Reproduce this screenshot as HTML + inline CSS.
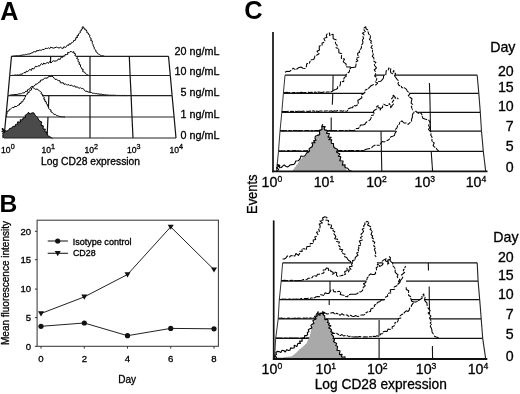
<!DOCTYPE html>
<html><head><meta charset="utf-8"><style>
html,body{margin:0;padding:0;background:#fff;width:520px;height:394px;overflow:hidden}
svg{display:block;filter:grayscale(1)}
text{font-family:"Liberation Sans",sans-serif;fill:#000;stroke:#000;stroke-width:0.3px}
</style></head><body>
<svg width="520" height="394" viewBox="0 0 520 394">
<rect width="520" height="394" fill="#fff"/>
<text x="0.2" y="19.5" font-size="25.2" text-anchor="start" font-weight="bold" style="stroke-width:0">A</text>
<text x="-0.6" y="212.2" font-size="24.6" text-anchor="start" font-weight="bold" style="stroke-width:0">B</text>
<text x="244.3" y="19" font-size="25.4" text-anchor="start" font-weight="bold" style="stroke-width:0">C</text>
<polygon points="11.5,56.3 12.7,56.3 13.8,56 15,56.1 16.1,55.8 17.3,55.8 18.5,55.7 19.6,55.4 20.8,55.4 22,55.2 23.1,54.9 24.3,55 25.4,54.4 26.5,54.5 27.7,54.1 28.8,54 30.1,53.9 31.1,53 32.4,53 33.3,51.8 34.6,51.7 35.9,52 36.7,50.4 38.1,51 39.1,50 40.4,50.2 41.7,50.1 42.7,49.3 44.1,49.7 45,48.5 46.2,48.3 47.4,48.5 48.4,47.8 49.7,48.7 50.7,47.1 51.9,47.7 53.5,48.1 55,47.7 56.3,47.1 57.7,47.5 59,48.1 60.7,47.2 61.9,48.3 63.2,48.3 63.9,46.7 65.7,47.5 66.5,46.3 67.2,45.2 68.7,45.4 69,43.8 70.6,44.2 71.2,42.9 72.3,42.5 73.4,41.9 73.7,40.4 75.4,40.3 75.8,39 75.8,37.7 77.5,37.5 76.9,35.8 78.6,35.5 78.3,34 79.2,33.3 80.4,32.7 80,31.2 81.4,30.7 81.2,29.3 82.6,28.9 82.1,27.3 83.2,26.6 83.3,28 84.9,28.3 84.8,29.8 86.5,30 86.8,31.2 86.8,32.6 88.4,33.1 88.4,34.5 89.9,35.1 89.7,36.6 90,37.8 91.4,38.7 90.6,40.4 92.4,41 92.2,42.5 92.4,43.7 93.2,44.7 93.1,46 94.2,46.9 94.1,48.2 94.8,49.2 95.7,50.1 95.8,51.6 97.1,52.3 97.6,53.5 98.5,54.1 99.6,54.5 100.5,55.3 101.5,55.8 103,55.9 104.5,56.3 104.5,56.3 11.5,56.3" fill="#fff" stroke="none"/><polyline points="11.5,56.3 12.7,56.3 13.8,56 15,56.1 16.1,55.8 17.3,55.8 18.5,55.7 19.6,55.4 20.8,55.4 22,55.2 23.1,54.9 24.3,55 25.4,54.4 26.5,54.5 27.7,54.1 28.8,54 30.1,53.9 31.1,53 32.4,53 33.3,51.8 34.6,51.7 35.9,52 36.7,50.4 38.1,51 39.1,50 40.4,50.2 41.7,50.1 42.7,49.3 44.1,49.7 45,48.5 46.2,48.3 47.4,48.5 48.4,47.8 49.7,48.7 50.7,47.1 51.9,47.7 53.5,48.1 55,47.7 56.3,47.1 57.7,47.5 59,48.1 60.7,47.2 61.9,48.3 63.2,48.3 63.9,46.7 65.7,47.5 66.5,46.3 67.2,45.2 68.7,45.4 69,43.8 70.6,44.2 71.2,42.9 72.3,42.5 73.4,41.9 73.7,40.4 75.4,40.3 75.8,39 75.8,37.7 77.5,37.5 76.9,35.8 78.6,35.5 78.3,34 79.2,33.3 80.4,32.7 80,31.2 81.4,30.7 81.2,29.3 82.6,28.9 82.1,27.3 83.2,26.6 83.3,28 84.9,28.3 84.8,29.8 86.5,30 86.8,31.2 86.8,32.6 88.4,33.1 88.4,34.5 89.9,35.1 89.7,36.6 90,37.8 91.4,38.7 90.6,40.4 92.4,41 92.2,42.5 92.4,43.7 93.2,44.7 93.1,46 94.2,46.9 94.1,48.2 94.8,49.2 95.7,50.1 95.8,51.6 97.1,52.3 97.6,53.5 98.5,54.1 99.6,54.5 100.5,55.3 101.5,55.8 103,55.9 104.5,56.3" fill="none" stroke="#000" stroke-width="1.0" stroke-linejoin="round"/>
<line x1="11.5" y1="56.3" x2="168.5" y2="56.3" stroke="#222" stroke-width="1.2"/>
<line x1="11.5" y1="56.3" x2="9.7" y2="75.5" stroke="#111" stroke-width="1.2"/>
<line x1="50.7" y1="56.3" x2="49.9" y2="75.5" stroke="#111" stroke-width="1.2"/>
<line x1="90" y1="56.3" x2="90" y2="75.5" stroke="#111" stroke-width="1.2"/>
<line x1="129.3" y1="56.3" x2="130.1" y2="75.5" stroke="#111" stroke-width="1.2"/>
<line x1="168.5" y1="56.3" x2="170.3" y2="75.5" stroke="#111" stroke-width="1.2"/>
<polygon points="10.4,75.5 11.6,75.5 12.7,75.3 13.9,75.4 15,75 16.2,75.2 17.3,74.9 18.5,75 19.6,74.8 20.7,74.2 22,74.2 23.1,73.5 24,72.5 25.6,72.8 26.2,71.2 27.8,71.5 28.8,70.6 29.6,69.4 31.5,70.3 32,68.3 33.8,69 34.6,67.7 35.4,66.3 37,66.8 38,65.7 39.6,66.1 40.4,64.8 41.3,63.6 42.9,64.7 43.7,63 45.2,64.1 46.2,63.1 47.2,62.4 48.6,63.4 49.5,61.6 51,63 51.9,61.9 53.3,60.8 55,61.2 56.4,60.8 57.7,60.2 58.3,58.9 60.2,59.4 60.8,58.1 61.4,56.9 62.9,57.3 63.4,56 64.8,56.1 65.1,54.5 66.5,54.6 67.8,54.4 67.7,52.4 69.3,52.6 70,51.7 71.3,51.5 72.3,52.3 74,51.7 73.8,53.2 75.6,53.8 74.9,55.6 76.3,56.3 77.3,57.1 76.7,58.6 78.3,59.1 78.1,60.4 78.1,61.8 79.7,62.4 78.9,64.1 80.6,64.8 80.4,66.2 80.8,67.3 81.8,68 81.9,69.2 83.3,69.6 82.5,71.4 83.8,71.9 84.9,72.3 85.4,73.6 86.5,74 87.3,74.8 88.4,75.3 89.6,75.5 89.6,75.5 10.4,75.5" fill="#fff" stroke="none"/><polyline points="10.4,75.5 11.6,75.5 12.7,75.3 13.9,75.4 15,75 16.2,75.2 17.3,74.9 18.5,75 19.6,74.8 20.7,74.2 22,74.2 23.1,73.5 24,72.5 25.6,72.8 26.2,71.2 27.8,71.5 28.8,70.6 29.6,69.4 31.5,70.3 32,68.3 33.8,69 34.6,67.7 35.4,66.3 37,66.8 38,65.7 39.6,66.1 40.4,64.8 41.3,63.6 42.9,64.7 43.7,63 45.2,64.1 46.2,63.1 47.2,62.4 48.6,63.4 49.5,61.6 51,63 51.9,61.9 53.3,60.8 55,61.2 56.4,60.8 57.7,60.2 58.3,58.9 60.2,59.4 60.8,58.1 61.4,56.9 62.9,57.3 63.4,56 64.8,56.1 65.1,54.5 66.5,54.6 67.8,54.4 67.7,52.4 69.3,52.6 70,51.7 71.3,51.5 72.3,52.3 74,51.7 73.8,53.2 75.6,53.8 74.9,55.6 76.3,56.3 77.3,57.1 76.7,58.6 78.3,59.1 78.1,60.4 78.1,61.8 79.7,62.4 78.9,64.1 80.6,64.8 80.4,66.2 80.8,67.3 81.8,68 81.9,69.2 83.3,69.6 82.5,71.4 83.8,71.9 84.9,72.3 85.4,73.6 86.5,74 87.3,74.8 88.4,75.3 89.6,75.5" fill="none" stroke="#000" stroke-width="1.0" stroke-linejoin="round"/>
<line x1="9.7" y1="75.5" x2="170.3" y2="75.5" stroke="#222" stroke-width="1.2"/>
<line x1="9.7" y1="75.5" x2="7.9" y2="95.6" stroke="#111" stroke-width="1.2"/>
<line x1="49.9" y1="75.5" x2="48.9" y2="95.6" stroke="#111" stroke-width="1.2"/>
<line x1="90" y1="75.5" x2="90" y2="95.6" stroke="#111" stroke-width="1.2"/>
<line x1="130.1" y1="75.5" x2="131.1" y2="95.6" stroke="#111" stroke-width="1.2"/>
<line x1="170.3" y1="75.5" x2="172.1" y2="95.6" stroke="#111" stroke-width="1.2"/>
<polygon points="8.7,95.6 10.1,95.2 11.5,94.8 12.6,94.6 13.8,94.8 15,94.5 16.1,94.6 17.3,94.4 18.8,93.9 20.4,93.8 21.6,93.6 22.6,92.8 24,93 25,92.3 25.7,91.2 27.4,91.4 27.6,89.7 28.8,89.2 30.1,88.6 30.7,87.2 31.9,86.5 33.6,86.3 35,85.4 35.6,84.1 37.2,84.1 38.1,83.1 38.9,82.1 40.3,81.9 40.5,80.2 41.9,80 43.3,79.7 44.3,78.2 45.8,78.1 47.3,78.2 48.2,76.8 49.6,76.5 50.8,76.5 51.9,76.2 53.3,77 54.2,78.3 55,79.4 56.5,79.2 57.3,80.2 58.5,80.6 60,80.8 60.3,82.8 61.9,82.9 63.3,82.7 64,84.4 65.4,83.9 66.5,84.6 67.6,85 68.9,84.6 69.9,85.7 71.2,85.1 72.3,85.8 73.4,86.3 74.8,85.8 75.6,87.3 77.1,86.8 78.1,87.5 79.1,88.3 80.5,87.7 81.5,88.7 82.8,88.4 83.8,89.2 84.5,90.6 85.8,91.3 87,91.2 88,92.1 89.1,92 90.2,92.6 91.4,92.4 92.3,93.2 93.5,93.3 94.6,93.3 95.7,93.7 96.8,93.6 97.8,94 99,93.9 100,94.3 101.2,94.1 102.2,94.5 103.3,94.5 104.4,94.8 105.5,94.7 106.6,95 107.7,95 108.8,95.2 109.9,95.3 111.1,95.2 112.2,95.3 113.3,95.2 114.4,95.3 115.6,95.3 116.7,95.5 117.8,95.4 119,95.5 120.1,95.4 121.2,95.6 122.4,95.4 123.5,95.6 124.6,95.4 125.7,95.6 126.9,95.5 128,95.6 128,95.6 8.7,95.6" fill="#fff" stroke="none"/><polyline points="8.7,95.6 10.1,95.2 11.5,94.8 12.6,94.6 13.8,94.8 15,94.5 16.1,94.6 17.3,94.4 18.8,93.9 20.4,93.8 21.6,93.6 22.6,92.8 24,93 25,92.3 25.7,91.2 27.4,91.4 27.6,89.7 28.8,89.2 30.1,88.6 30.7,87.2 31.9,86.5 33.6,86.3 35,85.4 35.6,84.1 37.2,84.1 38.1,83.1 38.9,82.1 40.3,81.9 40.5,80.2 41.9,80 43.3,79.7 44.3,78.2 45.8,78.1 47.3,78.2 48.2,76.8 49.6,76.5 50.8,76.5 51.9,76.2 53.3,77 54.2,78.3 55,79.4 56.5,79.2 57.3,80.2 58.5,80.6 60,80.8 60.3,82.8 61.9,82.9 63.3,82.7 64,84.4 65.4,83.9 66.5,84.6 67.6,85 68.9,84.6 69.9,85.7 71.2,85.1 72.3,85.8 73.4,86.3 74.8,85.8 75.6,87.3 77.1,86.8 78.1,87.5 79.1,88.3 80.5,87.7 81.5,88.7 82.8,88.4 83.8,89.2 84.5,90.6 85.8,91.3 87,91.2 88,92.1 89.1,92 90.2,92.6 91.4,92.4 92.3,93.2 93.5,93.3 94.6,93.3 95.7,93.7 96.8,93.6 97.8,94 99,93.9 100,94.3 101.2,94.1 102.2,94.5 103.3,94.5 104.4,94.8 105.5,94.7 106.6,95 107.7,95 108.8,95.2 109.9,95.3 111.1,95.2 112.2,95.3 113.3,95.2 114.4,95.3 115.6,95.3 116.7,95.5 117.8,95.4 119,95.5 120.1,95.4 121.2,95.6 122.4,95.4 123.5,95.6 124.6,95.4 125.7,95.6 126.9,95.5 128,95.6" fill="none" stroke="#000" stroke-width="1.0" stroke-linejoin="round"/>
<line x1="7.9" y1="95.6" x2="172.1" y2="95.6" stroke="#222" stroke-width="1.2"/>
<line x1="7.9" y1="95.6" x2="5.9" y2="117" stroke="#111" stroke-width="1.2"/>
<line x1="48.9" y1="95.6" x2="48" y2="117" stroke="#111" stroke-width="1.2"/>
<line x1="90" y1="95.6" x2="90" y2="117" stroke="#111" stroke-width="1.2"/>
<line x1="131.1" y1="95.6" x2="132" y2="117" stroke="#111" stroke-width="1.2"/>
<line x1="172.1" y1="95.6" x2="174.1" y2="117" stroke="#111" stroke-width="1.2"/>
<polygon points="6.3,117 6.6,115.9 6.6,114.6 7.2,113.5 7.1,112.3 7.5,111.2 8.9,111 9.3,109.5 10.6,109.1 11.5,108.3 12.5,107.3 14,107.7 14.7,106.3 16.2,106.7 17.3,106 18,105.1 19.4,105 19.6,103.5 21,103.5 21.1,101.9 22.6,101.9 23.1,100.8 23.3,99.6 24.7,99.1 24.6,97.8 25.5,97 25.4,95.7 26.5,95 27.3,94.2 27.4,92.8 29.1,92.6 29.1,91.2 30,90.4 31.5,89.9 31.5,88.1 32.9,87.5 34.6,88.7 35.7,89.4 37.1,89 38.1,89.8 39.2,90.7 40.4,91.5 41.4,92.3 41,93.9 42.7,94.3 42.4,95.9 43.3,96.7 44.4,97.5 43.7,99.1 45.1,99.7 44.7,101.2 46.3,101.8 46.2,103.1 46.6,104.2 47.9,104.9 47.7,106.4 48.7,107.2 48.7,108.5 49.6,109.4 51,110 50.9,111.9 52.3,112.4 53.1,113.5 54.1,114.4 55.5,114.4 56.4,115.4 57.7,115.8 58.9,116.2 60,116.7 61.2,116.8 62.5,116.8 63.7,117 65,117 65,117 6.3,117" fill="#fff" stroke="none"/><polyline points="6.3,117 6.6,115.9 6.6,114.6 7.2,113.5 7.1,112.3 7.5,111.2 8.9,111 9.3,109.5 10.6,109.1 11.5,108.3 12.5,107.3 14,107.7 14.7,106.3 16.2,106.7 17.3,106 18,105.1 19.4,105 19.6,103.5 21,103.5 21.1,101.9 22.6,101.9 23.1,100.8 23.3,99.6 24.7,99.1 24.6,97.8 25.5,97 25.4,95.7 26.5,95 27.3,94.2 27.4,92.8 29.1,92.6 29.1,91.2 30,90.4 31.5,89.9 31.5,88.1 32.9,87.5 34.6,88.7 35.7,89.4 37.1,89 38.1,89.8 39.2,90.7 40.4,91.5 41.4,92.3 41,93.9 42.7,94.3 42.4,95.9 43.3,96.7 44.4,97.5 43.7,99.1 45.1,99.7 44.7,101.2 46.3,101.8 46.2,103.1 46.6,104.2 47.9,104.9 47.7,106.4 48.7,107.2 48.7,108.5 49.6,109.4 51,110 50.9,111.9 52.3,112.4 53.1,113.5 54.1,114.4 55.5,114.4 56.4,115.4 57.7,115.8 58.9,116.2 60,116.7 61.2,116.8 62.5,116.8 63.7,117 65,117" fill="none" stroke="#000" stroke-width="1.0" stroke-linejoin="round"/>
<line x1="5.9" y1="117" x2="174.1" y2="117" stroke="#222" stroke-width="1.2"/>
<line x1="5.9" y1="117" x2="4" y2="138" stroke="#111" stroke-width="1.2"/>
<line x1="48" y1="117" x2="47" y2="138" stroke="#111" stroke-width="1.2"/>
<line x1="90" y1="117" x2="90" y2="138" stroke="#111" stroke-width="1.2"/>
<line x1="132" y1="117" x2="133" y2="138" stroke="#111" stroke-width="1.2"/>
<line x1="174.1" y1="117" x2="176" y2="138" stroke="#111" stroke-width="1.2"/>
<polygon points="2.9,138.2 3.1,137.1 2.7,135.9 3.2,134.8 2.5,133.7 3.7,132.5 1.7,131.4 3.7,130.3 1.8,129.1 2.9,128 2.7,129.3 4.2,130 3,131.6 4.3,132.4 4.8,130.7 6.5,131 7.8,130.7 8.7,129.8 9.5,128.6 11,128.2 12.1,127.9 12.6,126.6 13.8,126.3 15.3,126.3 15.4,124.6 16.5,124.2 18,124.2 17.4,121.9 19,122 20.7,122.2 20.1,119.8 21.5,119.8 22.9,119.7 23,118 24.2,117.7 25.6,117.3 25,115.4 26.2,114.8 27.7,113.2 28.6,112.2 29.1,113.4 30.3,113.8 32.2,112.8 33.8,112.9 34.6,114.2 35.3,115.5 36.5,116.5 37.5,117.4 38.1,118.6 38.8,120.1 40,121.2 41.7,121.9 41.5,123.7 41,125.4 43.3,125.8 43.3,127.3 42.9,128.9 45.3,129.1 45,130.7 45.1,132 47.1,132 46.8,133.5 47.3,134.9 48.4,135.9 49.8,136.6 51,137.6 52.5,138.2 52.5,138 2.9,138" fill="#4a4a4a" stroke="none"/><polyline points="2.9,138.2 3.1,137.1 2.7,135.9 3.2,134.8 2.5,133.7 3.7,132.5 1.7,131.4 3.7,130.3 1.8,129.1 2.9,128 2.7,129.3 4.2,130 3,131.6 4.3,132.4 4.8,130.7 6.5,131 7.8,130.7 8.7,129.8 9.5,128.6 11,128.2 12.1,127.9 12.6,126.6 13.8,126.3 15.3,126.3 15.4,124.6 16.5,124.2 18,124.2 17.4,121.9 19,122 20.7,122.2 20.1,119.8 21.5,119.8 22.9,119.7 23,118 24.2,117.7 25.6,117.3 25,115.4 26.2,114.8 27.7,113.2 28.6,112.2 29.1,113.4 30.3,113.8 32.2,112.8 33.8,112.9 34.6,114.2 35.3,115.5 36.5,116.5 37.5,117.4 38.1,118.6 38.8,120.1 40,121.2 41.7,121.9 41.5,123.7 41,125.4 43.3,125.8 43.3,127.3 42.9,128.9 45.3,129.1 45,130.7 45.1,132 47.1,132 46.8,133.5 47.3,134.9 48.4,135.9 49.8,136.6 51,137.6 52.5,138.2" fill="none" stroke="#000" stroke-width="1.0" stroke-linejoin="round"/>
<line x1="4" y1="138" x2="176" y2="138" stroke="#222" stroke-width="1.2"/>
<text x="219.6" y="54.6" font-size="10.8" text-anchor="end" font-weight="normal" >20 ng/mL</text>
<text x="219.6" y="74.8" font-size="10.8" text-anchor="end" font-weight="normal" >10 ng/mL</text>
<text x="219.6" y="95.9" font-size="10.8" text-anchor="end" font-weight="normal" >5 ng/mL</text>
<text x="219.6" y="117.6" font-size="10.8" text-anchor="end" font-weight="normal" >1 ng/mL</text>
<text x="219.6" y="138.8" font-size="10.8" text-anchor="end" font-weight="normal" >0 ng/mL</text>
<text x="1.1" y="152.7" font-size="8.6">10<tspan dy="-3.6" font-size="7.2">0</tspan></text>
<text x="41.5" y="152.7" font-size="8.6">10<tspan dy="-3.6" font-size="7.2">1</tspan></text>
<text x="84.5" y="152.7" font-size="8.6">10<tspan dy="-3.6" font-size="7.2">2</tspan></text>
<text x="127" y="152.7" font-size="8.6">10<tspan dy="-3.6" font-size="7.2">3</tspan></text>
<text x="169.5" y="152.7" font-size="8.6">10<tspan dy="-3.6" font-size="7.2">4</tspan></text>
<text x="41" y="164.8" font-size="10.3" text-anchor="start" font-weight="normal" >Log CD28 expression</text>
<rect x="37.1" y="220.2" width="181.3" height="126.1" fill="none" stroke="#3a3a3a" stroke-width="1.05"/>
<line x1="34.9" y1="346.3" x2="37.1" y2="346.3" stroke="#333" stroke-width="1"/>
<text x="31.2" y="349.6" font-size="9.6" text-anchor="end" font-weight="normal" >0</text>
<line x1="34.9" y1="317.6" x2="37.1" y2="317.6" stroke="#333" stroke-width="1"/>
<text x="31.2" y="320.9" font-size="9.6" text-anchor="end" font-weight="normal" >5</text>
<line x1="34.9" y1="289.1" x2="37.1" y2="289.1" stroke="#333" stroke-width="1"/>
<text x="31.2" y="292.4" font-size="9.6" text-anchor="end" font-weight="normal" >10</text>
<line x1="34.9" y1="259.7" x2="37.1" y2="259.7" stroke="#333" stroke-width="1"/>
<text x="31.2" y="263" font-size="9.6" text-anchor="end" font-weight="normal" >15</text>
<line x1="34.9" y1="231.3" x2="37.1" y2="231.3" stroke="#333" stroke-width="1"/>
<text x="31.2" y="234.6" font-size="9.6" text-anchor="end" font-weight="normal" >20</text>
<line x1="41" y1="346.3" x2="41" y2="348.6" stroke="#333" stroke-width="1"/>
<text x="41" y="362" font-size="9.6" text-anchor="middle" font-weight="normal" >0</text>
<line x1="84.3" y1="346.3" x2="84.3" y2="348.6" stroke="#333" stroke-width="1"/>
<text x="84.3" y="362" font-size="9.6" text-anchor="middle" font-weight="normal" >2</text>
<line x1="127.5" y1="346.3" x2="127.5" y2="348.6" stroke="#333" stroke-width="1"/>
<text x="127.5" y="362" font-size="9.6" text-anchor="middle" font-weight="normal" >4</text>
<line x1="170.7" y1="346.3" x2="170.7" y2="348.6" stroke="#333" stroke-width="1"/>
<text x="170.7" y="362" font-size="9.6" text-anchor="middle" font-weight="normal" >6</text>
<line x1="214" y1="346.3" x2="214" y2="348.6" stroke="#333" stroke-width="1"/>
<text x="214" y="362" font-size="9.6" text-anchor="middle" font-weight="normal" >8</text>
<text x="127.2" y="382.9" font-size="10" text-anchor="middle" font-weight="normal" >Day</text>
<text x="8.6" y="345.0" font-size="10.0" transform="rotate(-90 8.6 345.0)">Mean fluorescence intensity</text>
<polyline points="41,313.5 84.3,296.9 127.5,274.5 170.7,226.9 214,269.6" fill="none" stroke="#222" stroke-width="1.0"/>
<polyline points="41,326.3 84.3,323 127.5,335.7 170.7,328.4 214,328.8" fill="none" stroke="#222" stroke-width="1.0"/>
<polygon points="38,311.2 44,311.2 41,316.4" fill="#111"/>
<polygon points="81.3,294.6 87.3,294.6 84.3,299.8" fill="#111"/>
<polygon points="124.5,272.2 130.5,272.2 127.5,277.4" fill="#111"/>
<polygon points="167.7,224.7 173.7,224.7 170.7,229.8" fill="#111"/>
<polygon points="211,267.4 217,267.4 214,272.5" fill="#111"/>
<circle cx="41" cy="326.3" r="2.6" fill="#111"/>
<circle cx="84.3" cy="323" r="2.6" fill="#111"/>
<circle cx="127.5" cy="335.7" r="2.6" fill="#111"/>
<circle cx="170.7" cy="328.4" r="2.6" fill="#111"/>
<circle cx="214" cy="328.8" r="2.6" fill="#111"/>
<line x1="47.7" y1="241" x2="67.9" y2="241" stroke="#222" stroke-width="1.1"/>
<circle cx="57.7" cy="241" r="2.6" fill="#111"/>
<line x1="47.7" y1="253.3" x2="67.9" y2="253.3" stroke="#222" stroke-width="1.1"/>
<polygon points="54.7,251.1 60.7,251.1 57.7,256.2" fill="#111"/>
<text x="72.7" y="244.5" font-size="9.05" text-anchor="start" font-weight="normal" >Isotype control</text>
<text x="72.9" y="256.3" font-size="8.9" text-anchor="start" font-weight="normal" >CD28</text>
<polygon points="285,72.3 287,71.2 289.5,71.5 291.5,70 293,68.3 295,69.4 297,69 298.5,67.7 300.9,67 303,68.3 305.6,68.5 306.5,66 306.7,63.7 309.4,63.3 310,61.3 311.3,59.8 313.7,59.5 314.6,57.5 315,55.5 317,55 319,53.7 317,51.2 319.5,50.1 319.2,48.1 319.4,45.9 322.2,45.8 322,43.2 323.8,42.3 324.9,40.8 323.7,38.2 326.9,37.6 326.3,35.3 327.3,33.7 329.6,33.1 329.7,35.4 333.1,34.2 333.1,36.5 333.2,38.7 336.1,39.8 335.4,42.3 335.8,44 337.2,45.4 336.1,47.7 338.8,48.5 338.8,50.4 338.9,52.7 341.8,53.7 341.5,56.2 341.3,58.4 344.5,59 343.2,61.9 345,63.1 346.2,64.2 345.7,66.7 348,67 350.5,67.1 350.4,69.9 352,71 353.9,71.3 354.6,73.1 356,74 358,74.5 360,75.2 360,75.2 285,75.2" fill="#fff" stroke="none"/><polyline points="285,72.3 287,71.2 289.5,71.5 291.5,70 293,68.3 295,69.4 297,69 298.5,67.7 300.9,67 303,68.3 305.6,68.5 306.5,66 306.7,63.7 309.4,63.3 310,61.3 311.3,59.8 313.7,59.5 314.6,57.5 315,55.5 317,55 319,53.7 317,51.2 319.5,50.1 319.2,48.1 319.4,45.9 322.2,45.8 322,43.2 323.8,42.3 324.9,40.8 323.7,38.2 326.9,37.6 326.3,35.3 327.3,33.7 329.6,33.1 329.7,35.4 333.1,34.2 333.1,36.5 333.2,38.7 336.1,39.8 335.4,42.3 335.8,44 337.2,45.4 336.1,47.7 338.8,48.5 338.8,50.4 338.9,52.7 341.8,53.7 341.5,56.2 341.3,58.4 344.5,59 343.2,61.9 345,63.1 346.2,64.2 345.7,66.7 348,67 350.5,67.1 350.4,69.9 352,71 353.9,71.3 354.6,73.1 356,74 358,74.5 360,75.2" fill="none" stroke="#000" stroke-width="1.05" stroke-linejoin="round" stroke-dasharray="7 1.3 4 0.9 10 1.6 5 1.1 3 0.8"/>
<line x1="285" y1="75.2" x2="477.2" y2="75.2" stroke="#111" stroke-width="1.25"/>
<line x1="285" y1="75.2" x2="283.4" y2="93.3" stroke="#333" stroke-width="1.0"/>
<line x1="477.2" y1="75.2" x2="478.8" y2="93.3" stroke="#222" stroke-width="1.1"/>
<line x1="333.1" y1="75.2" x2="332.8" y2="93.3" stroke="#111" stroke-width="1.1"/>
<line x1="429.4" y1="82.9" x2="429.8" y2="93.3" stroke="#111" stroke-width="1.1"/>
<polygon points="283.4,92.5 285.1,92.7 286.7,92.3 288.4,92.7 290,92.5 291.7,92.7 293.4,92.4 295,92.6 296.7,92.5 298.3,92.7 300,92.6 301.7,92.3 303.3,92.7 305,92.5 306.7,92.6 308.3,92.3 310,92.5 311.7,92.2 313.3,92.6 315,92 316.7,92.4 318.3,92 320,92.2 321.8,92.5 323.6,92 325.4,92.3 327.2,91.9 329,92 330.8,91.9 332.3,91.2 333.9,90.1 335.8,89.4 337.5,88.6 337.7,86.5 339.8,86 340.4,84.2 340.5,81.8 343.7,81.4 343.8,79 344.4,77.4 346.1,76.5 346.1,74.5 347.3,73.3 349.4,71.8 349.6,69.2 351,67.6 353.1,67.5 355.7,66.9 356,64.2 355.5,62.2 357.8,60.7 356,58.5 358.9,57.1 357.7,55 357.7,53.2 359.6,52.3 359.1,50.3 360.6,49.2 361.5,47.4 361.3,45.3 362.7,43.7 362.9,41.7 362.4,40 363.6,38.4 363,36.7 364.3,35.1 362.4,33.2 365.4,31.8 364,30 364.1,27.9 365.8,26.7 366,28.7 367.8,30 368.1,31.9 368.6,33.9 370.3,35.5 370.4,37.7 369.4,39.6 371.4,40.9 370.7,42.7 372.1,44.1 372.1,45.8 371,47.6 373,49.2 372.3,51 372.7,52.7 373.3,54.4 372.3,56.3 373.9,57.8 373.8,59.6 373.8,61.3 375.9,62.5 374.3,64.5 375,66 376.5,67.8 374.2,70 375.7,71.8 375.6,73.8 374.7,76 377,77.8 376.5,80 375.3,81.9 377.6,83.1 376.8,84.9 379.2,86.1 378,88 377.8,90.1 379.7,91.4 380,93.3 380,93.3 283.4,93.3" fill="#fff" stroke="none"/><polyline points="283.4,92.5 285.1,92.7 286.7,92.3 288.4,92.7 290,92.5 291.7,92.7 293.4,92.4 295,92.6 296.7,92.5 298.3,92.7 300,92.6 301.7,92.3 303.3,92.7 305,92.5 306.7,92.6 308.3,92.3 310,92.5 311.7,92.2 313.3,92.6 315,92 316.7,92.4 318.3,92 320,92.2 321.8,92.5 323.6,92 325.4,92.3 327.2,91.9 329,92 330.8,91.9 332.3,91.2 333.9,90.1 335.8,89.4 337.5,88.6 337.7,86.5 339.8,86 340.4,84.2 340.5,81.8 343.7,81.4 343.8,79 344.4,77.4 346.1,76.5 346.1,74.5 347.3,73.3 349.4,71.8 349.6,69.2 351,67.6 353.1,67.5 355.7,66.9 356,64.2 355.5,62.2 357.8,60.7 356,58.5 358.9,57.1 357.7,55 357.7,53.2 359.6,52.3 359.1,50.3 360.6,49.2 361.5,47.4 361.3,45.3 362.7,43.7 362.9,41.7 362.4,40 363.6,38.4 363,36.7 364.3,35.1 362.4,33.2 365.4,31.8 364,30 364.1,27.9 365.8,26.7 366,28.7 367.8,30 368.1,31.9 368.6,33.9 370.3,35.5 370.4,37.7 369.4,39.6 371.4,40.9 370.7,42.7 372.1,44.1 372.1,45.8 371,47.6 373,49.2 372.3,51 372.7,52.7 373.3,54.4 372.3,56.3 373.9,57.8 373.8,59.6 373.8,61.3 375.9,62.5 374.3,64.5 375,66 376.5,67.8 374.2,70 375.7,71.8 375.6,73.8 374.7,76 377,77.8 376.5,80 375.3,81.9 377.6,83.1 376.8,84.9 379.2,86.1 378,88 377.8,90.1 379.7,91.4 380,93.3" fill="none" stroke="#000" stroke-width="1.05" stroke-linejoin="round" stroke-dasharray="7 1.3 4 0.9 10 1.6 5 1.1 3 0.8"/>
<line x1="283.4" y1="93.3" x2="478.8" y2="93.3" stroke="#111" stroke-width="1.25"/>
<line x1="283.4" y1="93.3" x2="281.8" y2="112.3" stroke="#333" stroke-width="1.0"/>
<line x1="478.8" y1="93.3" x2="480.3" y2="112.3" stroke="#222" stroke-width="1.1"/>
<line x1="332.8" y1="93.3" x2="332.3" y2="104.8" stroke="#111" stroke-width="1.1"/>
<line x1="429.8" y1="93.3" x2="430.2" y2="112.3" stroke="#111" stroke-width="1.1"/>
<polygon points="281.8,111.6 283.5,111.6 285.1,111.5 286.8,111.6 288.4,111.3 290.1,111.5 291.7,111.2 293.4,111.5 295,111.2 296.7,111.6 298.3,111.2 300,111.3 301.7,111.4 303.3,111 305,111.5 306.7,111.2 308.3,111.5 310,111 311.7,111.4 313.3,110.8 315,111.5 316.7,111.1 318.3,111.5 320,111.1 321.6,110.9 323.2,111.3 324.8,110.9 326.4,111.1 328,110.8 329.6,111.2 331.2,110.7 332.8,111.4 334.5,110.8 336.1,111.3 337.7,110.6 339.3,111.1 340.9,110.7 342.5,111.3 344.1,110.8 345.7,111.2 347.3,110.9 348.5,108.7 350.8,107.7 352.6,107.8 353.4,105.3 355.4,106 357.3,105 358.3,103.1 357.8,100.5 360,99 361.9,97.8 361.3,94.8 363.5,93.8 364.9,92.4 365.1,90.2 366.9,89.2 368.9,88 370.4,86.3 372,85.2 373.8,84.6 375.9,85 377.3,83.5 378.5,81.5 380.8,81.2 382.3,79.7 383.5,78 383.5,75.9 385.8,75 386,73 386.1,70.9 388.2,70 388.7,68.1 390.8,68.8 390.4,71 390.9,72.9 392.7,73.8 393,72 393.8,70.4 393.9,72.2 395.7,73.6 394.5,75.8 395.6,77.3 397.3,79.6 398.9,81.2 397.9,83.6 399,85.4 401.1,85.8 401.9,87.7 404.2,87.7 406.5,89.4 407.2,91 408.4,92.2 410,93.6 408.3,95.9 409.9,97.3 412,98.8 411.4,101.3 411.1,103.1 413,104.8 411.3,106.7 411.9,108.4 412.4,110.3 412.6,112.3 412.6,112.3 281.8,112.3" fill="#fff" stroke="none"/><polyline points="281.8,111.6 283.5,111.6 285.1,111.5 286.8,111.6 288.4,111.3 290.1,111.5 291.7,111.2 293.4,111.5 295,111.2 296.7,111.6 298.3,111.2 300,111.3 301.7,111.4 303.3,111 305,111.5 306.7,111.2 308.3,111.5 310,111 311.7,111.4 313.3,110.8 315,111.5 316.7,111.1 318.3,111.5 320,111.1 321.6,110.9 323.2,111.3 324.8,110.9 326.4,111.1 328,110.8 329.6,111.2 331.2,110.7 332.8,111.4 334.5,110.8 336.1,111.3 337.7,110.6 339.3,111.1 340.9,110.7 342.5,111.3 344.1,110.8 345.7,111.2 347.3,110.9 348.5,108.7 350.8,107.7 352.6,107.8 353.4,105.3 355.4,106 357.3,105 358.3,103.1 357.8,100.5 360,99 361.9,97.8 361.3,94.8 363.5,93.8 364.9,92.4 365.1,90.2 366.9,89.2 368.9,88 370.4,86.3 372,85.2 373.8,84.6 375.9,85 377.3,83.5 378.5,81.5 380.8,81.2 382.3,79.7 383.5,78 383.5,75.9 385.8,75 386,73 386.1,70.9 388.2,70 388.7,68.1 390.8,68.8 390.4,71 390.9,72.9 392.7,73.8 393,72 393.8,70.4 393.9,72.2 395.7,73.6 394.5,75.8 395.6,77.3 397.3,79.6 398.9,81.2 397.9,83.6 399,85.4 401.1,85.8 401.9,87.7 404.2,87.7 406.5,89.4 407.2,91 408.4,92.2 410,93.6 408.3,95.9 409.9,97.3 412,98.8 411.4,101.3 411.1,103.1 413,104.8 411.3,106.7 411.9,108.4 412.4,110.3 412.6,112.3" fill="none" stroke="#000" stroke-width="1.05" stroke-linejoin="round" stroke-dasharray="7 1.3 4 0.9 10 1.6 5 1.1 3 0.8"/>
<line x1="281.8" y1="112.3" x2="480.3" y2="112.3" stroke="#111" stroke-width="1.25"/>
<line x1="281.8" y1="112.3" x2="280" y2="131.2" stroke="#333" stroke-width="1.0"/>
<line x1="480.3" y1="112.3" x2="481.5" y2="131.2" stroke="#222" stroke-width="1.1"/>
<line x1="331.2" y1="117.5" x2="331.2" y2="131.2" stroke="#111" stroke-width="1.1"/>
<line x1="430.2" y1="112.3" x2="430.5" y2="131.2" stroke="#111" stroke-width="1.1"/>
<polygon points="280,130.6 281.6,130.7 283.2,130.4 284.8,130.8 286.4,130.5 288,130.7 289.6,130.4 291.2,130.7 292.8,130.4 294.4,130.6 296,130.4 297.6,130.7 299.2,130.4 300.8,130.7 302.4,130.4 304,130.7 305.6,130.4 307.2,130.6 308.8,130.4 310.4,130.7 312,130.5 313.6,130.7 315.2,130.5 316.8,130.6 318.4,130.6 320,130.6 321.6,130.8 323.2,130.4 324.8,130.8 326.4,130.5 328,130.7 329.7,130.4 331.3,130.6 332.9,130.4 334.5,130.8 336.1,130.5 337.7,130.6 339.3,130.4 340.9,130.6 342.5,130.4 344.1,130.6 345.8,130.5 347.4,130.7 349,130.3 350.6,130.6 352.2,130.4 353.8,130.5 355.5,130 356.5,128.4 358.4,128.4 359.6,127.1 360.5,125 362.8,125.1 364.6,124.6 365.6,123 366.9,121.8 368.4,120.9 370.4,119.6 371.2,117.4 371.4,115.5 373.6,115 374,113.3 373.4,111.1 375.3,109.8 376.9,108.9 376.6,106.6 378.1,105.6 377.7,107.6 380.3,108.1 380.2,110 380.9,108.4 382.6,107.5 382.6,105.5 383.7,104.2 386.5,105.6 388.5,105.4 389.3,103.5 390.6,105.4 390.7,107.7 392.1,105.6 393.5,104 392.2,102.1 393.7,100.5 391.6,98.6 393.2,97 393.1,95.2 394.7,96.4 395.2,98.3 397.2,97.3 398.2,99.3 400.1,100.2 402,101 403.7,102 405.3,103 407,104 408.3,105.3 409.7,106.7 411,108 412,109.7 413,111.3 414,113 414.8,114.5 415.5,116 416.2,117.5 417,119 417.8,120.5 418.5,122 419.2,123.5 420,125 421.2,126.2 422.4,127.5 423.6,128.7 424.8,130 426,131.2 426,131.2 280,131.2" fill="#fff" stroke="none"/><polyline points="280,130.6 281.6,130.7 283.2,130.4 284.8,130.8 286.4,130.5 288,130.7 289.6,130.4 291.2,130.7 292.8,130.4 294.4,130.6 296,130.4 297.6,130.7 299.2,130.4 300.8,130.7 302.4,130.4 304,130.7 305.6,130.4 307.2,130.6 308.8,130.4 310.4,130.7 312,130.5 313.6,130.7 315.2,130.5 316.8,130.6 318.4,130.6 320,130.6 321.6,130.8 323.2,130.4 324.8,130.8 326.4,130.5 328,130.7 329.7,130.4 331.3,130.6 332.9,130.4 334.5,130.8 336.1,130.5 337.7,130.6 339.3,130.4 340.9,130.6 342.5,130.4 344.1,130.6 345.8,130.5 347.4,130.7 349,130.3 350.6,130.6 352.2,130.4 353.8,130.5 355.5,130 356.5,128.4 358.4,128.4 359.6,127.1 360.5,125 362.8,125.1 364.6,124.6 365.6,123 366.9,121.8 368.4,120.9 370.4,119.6 371.2,117.4 371.4,115.5 373.6,115 374,113.3 373.4,111.1 375.3,109.8 376.9,108.9 376.6,106.6 378.1,105.6 377.7,107.6 380.3,108.1 380.2,110 380.9,108.4 382.6,107.5 382.6,105.5 383.7,104.2 386.5,105.6 388.5,105.4 389.3,103.5 390.6,105.4 390.7,107.7 392.1,105.6 393.5,104 392.2,102.1 393.7,100.5 391.6,98.6 393.2,97 393.1,95.2 394.7,96.4 395.2,98.3 397.2,97.3 398.2,99.3" fill="none" stroke="#000" stroke-width="1.05" stroke-linejoin="round" stroke-dasharray="7 1.3 4 0.9 10 1.6 5 1.1 3 0.8"/>
<line x1="280" y1="131.2" x2="481.5" y2="131.2" stroke="#111" stroke-width="1.25"/>
<line x1="280" y1="131.2" x2="278.5" y2="151.3" stroke="#333" stroke-width="1.0"/>
<line x1="481.5" y1="131.2" x2="483.3" y2="151.3" stroke="#222" stroke-width="1.1"/>
<polygon points="278.5,150.8 280.2,151 281.8,150.7 283.5,150.9 285.1,150.8 286.8,150.8 288.5,150.6 290.1,150.9 291.8,150.6 293.4,150.8 295.1,150.6 296.8,150.9 298.4,150.7 300.1,150.9 301.7,150.6 303.4,150.8 305.1,150.7 306.7,150.8 308.4,150.6 310,150.8 311.7,150.6 313.4,150.9 315,150.7 316.7,150.9 318.3,150.6 320,150.7 321.6,150.8 323.2,150.5 324.8,150.7 326.5,150.6 328.1,150.7 329.7,150.6 331.3,150.8 332.9,150.6 334.5,150.7 336.2,150.6 337.8,150.7 339.4,150.6 341,150.6 342.6,150.5 344.2,150.7 345.8,150.5 347.5,150.7 349.1,150.4 350.7,150.6 352.3,150.5 353.9,150.6 355.5,150.4 357.2,150.6 358.8,150.4 360.4,150.7 362,150.5 364.2,150.2 366.2,149.3 368.4,148.8 370.9,148.5 372.6,146.7 374.4,145.3 376.7,145.3 379.3,145.3 380.9,143.3 382.2,141.5 384.4,141.9 387.2,140.5 388.8,139.7 390,138.4 390.9,136.7 392.8,136.3 394.5,135.4 394.9,133.5 396.3,131.4 395.5,129.4 397,127.9 397.7,125.1 399.3,124.1 399.8,122.3 401.9,120.9 404,123 406,123 408.1,124.4 410.2,122.3 411.6,120.9 411.6,119 412.4,117.2 412.3,115.3 413,113.3 414.4,112.6 415.8,111.2 417.2,112.6 418.6,113.3 420.4,112.6 421.8,114.3 422.3,116.4 422.9,118.3 424.8,119 426.7,119.6 428.6,120.2 430,121.9 429.3,124 428.6,125.8 429.9,127.5 428.5,129.4 429.9,131 431.6,132.5 430.7,135 431.8,136.7 432.3,138.4 431.8,140.1 432.4,141.8 434.2,143 433.1,145.4 434.3,146.9 436.1,147.6 436.9,149.4 438.8,151.3 438.8,151.3 278.5,151.3" fill="#fff" stroke="none"/><polyline points="278.5,150.8 280.2,151 281.8,150.7 283.5,150.9 285.1,150.8 286.8,150.8 288.5,150.6 290.1,150.9 291.8,150.6 293.4,150.8 295.1,150.6 296.8,150.9 298.4,150.7 300.1,150.9 301.7,150.6 303.4,150.8 305.1,150.7 306.7,150.8 308.4,150.6 310,150.8 311.7,150.6 313.4,150.9 315,150.7 316.7,150.9 318.3,150.6 320,150.7 321.6,150.8 323.2,150.5 324.8,150.7 326.5,150.6 328.1,150.7 329.7,150.6 331.3,150.8 332.9,150.6 334.5,150.7 336.2,150.6 337.8,150.7 339.4,150.6 341,150.6 342.6,150.5 344.2,150.7 345.8,150.5 347.5,150.7 349.1,150.4 350.7,150.6 352.3,150.5 353.9,150.6 355.5,150.4 357.2,150.6 358.8,150.4 360.4,150.7 362,150.5 364.2,150.2 366.2,149.3 368.4,148.8 370.9,148.5 372.6,146.7 374.4,145.3 376.7,145.3 379.3,145.3 380.9,143.3 382.2,141.5 384.4,141.9 387.2,140.5 388.8,139.7 390,138.4 390.9,136.7 392.8,136.3 394.5,135.4 394.9,133.5 396.3,131.4 395.5,129.4 397,127.9 397.7,125.1 399.3,124.1 399.8,122.3 401.9,120.9 404,123 406,123 408.1,124.4 410.2,122.3 411.6,120.9 411.6,119 412.4,117.2 412.3,115.3 413,113.3 414.4,112.6 415.8,111.2 417.2,112.6 418.6,113.3 420.4,112.6 421.8,114.3 422.3,116.4 422.9,118.3 424.8,119 426.7,119.6 428.6,120.2 430,121.9 429.3,124 428.6,125.8 429.9,127.5 428.5,129.4 429.9,131 431.6,132.5 430.7,135 431.8,136.7 432.3,138.4 431.8,140.1 432.4,141.8 434.2,143 433.1,145.4 434.3,146.9 436.1,147.6 436.9,149.4 438.8,151.3" fill="none" stroke="#000" stroke-width="1.05" stroke-linejoin="round" stroke-dasharray="7 1.3 4 0.9 10 1.6 5 1.1 3 0.8"/>
<line x1="278.5" y1="151.3" x2="483.3" y2="151.3" stroke="#111" stroke-width="1.25"/>
<line x1="278.5" y1="151.3" x2="276.5" y2="171.3" stroke="#333" stroke-width="1.0"/>
<line x1="483.3" y1="151.3" x2="485.7" y2="171.3" stroke="#222" stroke-width="1.1"/>
<line x1="431.2" y1="151.3" x2="432.6" y2="171.3" stroke="#111" stroke-width="1.1"/>
<polygon points="292,171.3 292.8,170.5 293.2,169.4 294.1,168.7 294.5,167.6 295.4,166.9 296,166 296.4,165 297.3,164.4 297.6,163.4 298.5,162.7 298.6,161.6 299.6,160.9 300,160 300.6,159.1 301.7,158.7 302.1,157.6 303,157 304.1,156.5 304.9,155.6 306,155 306.9,154.2 307.2,153.1 308.1,152.3 308.8,151.5 308.9,150.4 309.6,149.6 309.7,148.5 310.4,147.7 311.3,146.8 311.7,145.5 312.7,144.6 313.2,143.6 313.4,142.5 314.1,141.7 314.1,140.5 314.9,139.6 315,138.5 315.5,137.3 316.7,136.6 317.3,135.4 317.9,134.2 319.1,133.5 319.6,132.3 319.9,131.3 320.8,130.6 320.7,129.4 321.6,128.7 321.9,127.7 322,126.6 322.5,125.7 322.7,124.6 323.3,125.5 323.2,126.6 324.1,127.4 324.2,128.5 325.2,129.5 326.5,130 327,131.1 327.2,132.3 328,133.2 328.1,134.4 328.8,135.4 329.5,136.3 329.3,137.5 330.2,138.4 330.3,139.5 331.1,140.4 331.2,141.5 331.7,142.5 332.4,143.4 332.7,144.6 333.5,145.4 334.5,146.3 334.8,147.6 335.8,148.5 336.4,149.4 336.5,150.4 337.3,151.2 337.5,152.3 338.1,153.1 338.7,154.1 338.7,155.4 339.7,156.3 339.8,157.5 340.4,158.5 341.2,159.3 341,160.5 341.9,161.2 342.1,162.2 342.7,163.1 343.4,164 343.7,165.1 344.8,165.7 345,166.9 345.8,167.7 346.4,168.8 346.5,170.1 347,171.3" fill="#a9a9a9" stroke="none"/>
<polyline points="277.3,171 278.7,169.4 276.6,167.8 278.6,166.2 277.3,164.6 279.7,165.3 279.6,167.7 281.4,167.5 282.7,166.2 284.2,164.9 285.8,166.2 287.3,166.9 288.8,166.2 290.1,165 291.9,164.6 293.8,164.5 295,163.1 295.8,161 298.1,160.8 299.6,159.5 300.4,157.7 300.9,156 302.7,156.2 304.6,156 305.8,154.6 306.6,153.1 308.1,152.3 309.6,151.1 309,148.9 310.4,147.7 312.2,146.7 312.7,144.6 311.8,142.9 315,142.7 313.6,140.8 316,140.3 315,138.5 315.3,136.3 317.3,135.4 319.7,134.7 319.6,132.3 319.2,130.2 322,129.6 321.9,127.7 321.8,126 322.7,124.6 321.8,126.4 325.2,126.6 324.2,128.5 324.8,130.1 326.5,130 327.4,131.2 326.4,133.2 329.4,133.6 328.8,135.4 328,137.1 331.2,137.3 328.8,139.6 331.8,139.8 331.2,141.5 331.3,143.2 333.5,143.6 333.5,145.4 333.9,147.5 335.8,148.5 337.7,149.5 336.4,152 338.1,153.1 339.9,153.9 338.4,156.2 340.8,156.8 340.4,158.5 339.8,160.7 343.1,161 342.7,163.1 342.3,165.1 345.2,164.8 344.7,166.8 345.8,167.7 347.8,168.2 348.8,170 350.2,171.1 351.9,171" fill="none" stroke="#000" stroke-width="1.1" stroke-linejoin="round"/>
<line x1="381" y1="131.2" x2="381.8" y2="171.3" stroke="#111" stroke-width="1.1"/>
<line x1="273" y1="32" x2="273" y2="172.2" stroke="#111" stroke-width="1.7"/>
<line x1="272.2" y1="171.4" x2="487.5" y2="171.4" stroke="#111" stroke-width="1.8"/>
<polygon points="282.6,259.1 284.5,259 286,257.9 287.2,255.9 289.5,257 290.9,255.7 292.8,255.6 294.8,256.1 295.9,253.5 298.4,255.4 299.7,253.4 299.7,251.2 302.2,251.4 301.9,248.8 304.2,248.8 306.4,249.4 306.9,246.5 308.8,246.5 310.6,246 310.2,243.4 312.7,243.6 313.4,242 313.2,239.9 315.7,239.4 314.7,236.9 316.8,236.2 318,234.7 316.5,232.3 319.5,231.4 318.7,229.3 319.9,227.8 320.2,226 319.2,224 322.7,223.3 320,220.8 323.2,219.9 322.5,218 324.8,216.8 327,217.4 325.8,220.1 328.6,220.4 328.2,222.6 328.3,224.8 330.8,224.5 331.6,226 330.6,228.1 333.6,228.7 333,230.7 334.8,231.7 333.9,233.8 335,235.1 335.8,236.5 334.7,238.7 337.6,239.3 336.4,241.5 339.4,242.1 338.5,244.2 339,245.9 340.4,247.1 339.7,249.3 342.7,249.7 341.3,252.3 343,253.4 344.9,254.2 344.7,256.8 346.7,257.5 347.6,259.1 348.7,260.5 350.3,261.3 351.2,262.9 351.2,262.9 282.6,262.9" fill="#fff" stroke="none"/><polyline points="282.6,259.1 284.5,259 286,257.9 287.2,255.9 289.5,257 290.9,255.7 292.8,255.6 294.8,256.1 295.9,253.5 298.4,255.4 299.7,253.4 299.7,251.2 302.2,251.4 301.9,248.8 304.2,248.8 306.4,249.4 306.9,246.5 308.8,246.5 310.6,246 310.2,243.4 312.7,243.6 313.4,242 313.2,239.9 315.7,239.4 314.7,236.9 316.8,236.2 318,234.7 316.5,232.3 319.5,231.4 318.7,229.3 319.9,227.8 320.2,226 319.2,224 322.7,223.3 320,220.8 323.2,219.9 322.5,218 324.8,216.8 327,217.4 325.8,220.1 328.6,220.4 328.2,222.6 328.3,224.8 330.8,224.5 331.6,226 330.6,228.1 333.6,228.7 333,230.7 334.8,231.7 333.9,233.8 335,235.1 335.8,236.5 334.7,238.7 337.6,239.3 336.4,241.5 339.4,242.1 338.5,244.2 339,245.9 340.4,247.1 339.7,249.3 342.7,249.7 341.3,252.3 343,253.4 344.9,254.2 344.7,256.8 346.7,257.5 347.6,259.1 348.7,260.5 350.3,261.3 351.2,262.9" fill="none" stroke="#000" stroke-width="1.05" stroke-linejoin="round" stroke-dasharray="7 1.3 4 0.9 10 1.6 5 1.1 3 0.8"/>
<line x1="282.6" y1="262.9" x2="477.2" y2="262.9" stroke="#111" stroke-width="1.25"/>
<line x1="282.6" y1="262.9" x2="281.2" y2="281" stroke="#333" stroke-width="1.0"/>
<line x1="477.2" y1="262.9" x2="478.1" y2="281" stroke="#222" stroke-width="1.1"/>
<line x1="428.3" y1="262.9" x2="428.5" y2="270.6" stroke="#111" stroke-width="1.1"/>
<polygon points="281.2,280.5 282.9,280.6 284.6,280.3 286.3,280.6 288,280.4 289.7,280.6 291.5,280.3 293.2,280.6 294.9,280.4 296.6,280.7 298.3,280.4 300,280.5 301.8,280.3 303.5,279.6 305.4,279.6 307,279.3 308.4,278.3 310,278.1 311.8,277.8 313,276.3 314.6,275.8 316.5,276.3 317.5,274.3 319.2,274.2 322.3,273.5 324,272.7 323.2,270.1 325.5,269.7 326.2,268.1 328.3,268.3 328.5,270.4 330.8,269.6 330.7,271.3 333.1,272.3 332.3,274.2 334,273.6 334.6,271.9 336.7,272.7 336.4,275.1 337.7,276.5 340.8,275.8 343.8,275 345.4,274.2 344.6,271.8 347.3,270.4 346.9,268.1 349.1,269.4 348.5,271.9 349.2,270.4 351,269.3 348.9,266.8 352.2,266.2 351.5,264.2 353.1,262.7 352.5,260.5 355.3,259.9 355.1,257.9 356.2,256.5 358,255.2 356.7,253 359.2,251.9 358,249.7 359,248.1 358,246 361,245 360.3,243 359.3,241 362.3,239.9 360.4,237.7 362.2,236.3 361,234.2 362.6,232.8 363.6,231.2 362.2,229.2 364.7,227.9 363.6,225.9 365,224.4 364.8,222.6 367.1,221.4 369.1,222.3 367.5,225 369.4,226 371.4,227.2 370.1,229.6 372.4,230.7 371.7,232.8 371,234.6 372.7,236 372,237.8 374,239.1 372.7,241.1 374.8,242.3 374,244.2 373.8,246 375.6,247.5 374.4,249.4 375.1,251.1 375.8,252.9 374.7,255.1 376.2,256.8 376.4,258.5 376.6,260.2 376.8,261.9 377,263.6 377.2,265.3 377.4,267 377.6,268.6 377.8,270.3 378,272 378.4,273.8 378.8,275.6 379.2,277.4 379.6,279.2 380,281 380,281 281.2,281" fill="#fff" stroke="none"/><polyline points="281.2,280.5 282.9,280.6 284.6,280.3 286.3,280.6 288,280.4 289.7,280.6 291.5,280.3 293.2,280.6 294.9,280.4 296.6,280.7 298.3,280.4 300,280.5 301.8,280.3 303.5,279.6 305.4,279.6 307,279.3 308.4,278.3 310,278.1 311.8,277.8 313,276.3 314.6,275.8 316.5,276.3 317.5,274.3 319.2,274.2 322.3,273.5 324,272.7 323.2,270.1 325.5,269.7 326.2,268.1 328.3,268.3 328.5,270.4 330.8,269.6 330.7,271.3 333.1,272.3 332.3,274.2 334,273.6 334.6,271.9 336.7,272.7 336.4,275.1 337.7,276.5 340.8,275.8 343.8,275 345.4,274.2 344.6,271.8 347.3,270.4 346.9,268.1 349.1,269.4 348.5,271.9 349.2,270.4 351,269.3 348.9,266.8 352.2,266.2 351.5,264.2 353.1,262.7 352.5,260.5 355.3,259.9 355.1,257.9 356.2,256.5 358,255.2 356.7,253 359.2,251.9 358,249.7 359,248.1 358,246 361,245 360.3,243 359.3,241 362.3,239.9 360.4,237.7 362.2,236.3 361,234.2 362.6,232.8 363.6,231.2 362.2,229.2 364.7,227.9 363.6,225.9 365,224.4 364.8,222.6 367.1,221.4 369.1,222.3 367.5,225 369.4,226 371.4,227.2 370.1,229.6 372.4,230.7 371.7,232.8 371,234.6 372.7,236 372,237.8 374,239.1 372.7,241.1 374.8,242.3 374,244.2 373.8,246 375.6,247.5 374.4,249.4 375.1,251.1 375.8,252.9 374.7,255.1 376.2,256.8" fill="none" stroke="#000" stroke-width="1.05" stroke-linejoin="round" stroke-dasharray="7 1.3 4 0.9 10 1.6 5 1.1 3 0.8"/>
<line x1="281.2" y1="281" x2="478.1" y2="281" stroke="#111" stroke-width="1.25"/>
<line x1="281.2" y1="281" x2="279.3" y2="299.7" stroke="#333" stroke-width="1.0"/>
<line x1="478.1" y1="281" x2="479.7" y2="299.7" stroke="#222" stroke-width="1.1"/>
<line x1="330" y1="281" x2="330" y2="292.7" stroke="#111" stroke-width="1.1"/>
<line x1="429.2" y1="286.6" x2="429.3" y2="299.7" stroke="#111" stroke-width="1.1"/>
<polygon points="279.3,299.2 281,299.4 282.7,299.1 284.5,299.2 286.2,299.1 287.9,299.2 289.6,299 291.4,299.2 293.1,299 294.8,299.2 296.5,298.9 298.3,299.2 300,299 301.6,298.6 303.3,299 304.9,298.5 306.6,298.6 308.2,298.3 309.8,298.4 311.4,298 313.1,298.1 314.7,297.7 316.1,296.7 317.7,296.5 319.5,296.8 320.5,294.7 322.3,295 324.1,295.4 325,292.8 326.9,293.5 328.8,293.4 330,291.9 331,290 333.1,289.6 333.9,291.8 336.2,291.9 339.2,291.2 340.8,292 340.2,294.6 342.3,295 344.1,295.3 345.4,296.5 347.5,296.8 348.5,295 350.7,294.2 353.1,294.2 355.5,294.3 357.7,293.5 358.7,291.6 360.8,291.9 362.4,290.7 363.1,288.8 363.3,287.1 365.6,286.3 363.5,283.7 365.4,282.7 366.4,281.3 366.9,279.6 367.2,277.8 368.6,276.6 369.2,275 370.7,273.9 372.5,274.6 374.2,274.5 375.6,273.5 375.5,271.6 376.6,269.8 376.2,267.8 378.3,266.3 377.3,264.2 379.2,264.6 379.6,266.5 381.9,265.4 383.1,263.6 382.2,261.1 384.2,259.6 386,258.5 385.3,260.8 388.1,262 387.7,264.2 389.3,262.6 387.6,260.2 390.4,258.9 389.4,256.7 390.9,258.1 389.9,260.4 391.2,261.9 392.7,263 392.4,265.2 393.5,266.5 394.8,268 395.2,270 395.1,271.9 396.3,273.5 398,274.6 397.2,276.7 398.1,278.1 399.8,279.2 398.5,281.5 399.8,282.7 401.2,284.3 400.7,286.4 402.4,287.9 402,290 401.8,291.7 403.1,293.1 402.6,294.9 404.2,296.3 403.2,298.2 404,299.7 404,299.7 279.3,299.7" fill="#fff" stroke="none"/><polyline points="279.3,299.2 281,299.4 282.7,299.1 284.5,299.2 286.2,299.1 287.9,299.2 289.6,299 291.4,299.2 293.1,299 294.8,299.2 296.5,298.9 298.3,299.2 300,299 301.6,298.6 303.3,299 304.9,298.5 306.6,298.6 308.2,298.3 309.8,298.4 311.4,298 313.1,298.1 314.7,297.7 316.1,296.7 317.7,296.5 319.5,296.8 320.5,294.7 322.3,295 324.1,295.4 325,292.8 326.9,293.5 328.8,293.4 330,291.9 331,290 333.1,289.6 333.9,291.8 336.2,291.9 339.2,291.2 340.8,292 340.2,294.6 342.3,295 344.1,295.3 345.4,296.5 347.5,296.8 348.5,295 350.7,294.2 353.1,294.2 355.5,294.3 357.7,293.5 358.7,291.6 360.8,291.9 362.4,290.7 363.1,288.8 363.3,287.1 365.6,286.3 363.5,283.7 365.4,282.7 366.4,281.3 366.9,279.6 367.2,277.8 368.6,276.6 369.2,275 370.7,273.9 372.5,274.6 374.2,274.5 375.6,273.5 375.5,271.6 376.6,269.8 376.2,267.8 378.3,266.3 377.3,264.2 379.2,264.6 379.6,266.5 381.9,265.4 383.1,263.6 382.2,261.1 384.2,259.6 386,258.5 385.3,260.8 388.1,262 387.7,264.2 389.3,262.6 387.6,260.2 390.4,258.9 389.4,256.7 390.9,258.1 389.9,260.4 391.2,261.9 392.7,263 392.4,265.2 393.5,266.5 394.8,268 395.2,270 395.1,271.9 396.3,273.5 398,274.6 397.2,276.7 398.1,278.1 399.8,279.2 398.5,281.5 399.8,282.7 401.2,284.3 400.7,286.4 402.4,287.9 402,290 401.8,291.7 403.1,293.1 402.6,294.9 404.2,296.3 403.2,298.2 404,299.7" fill="none" stroke="#000" stroke-width="1.05" stroke-linejoin="round" stroke-dasharray="7 1.3 4 0.9 10 1.6 5 1.1 3 0.8"/>
<line x1="279.3" y1="299.7" x2="479.7" y2="299.7" stroke="#111" stroke-width="1.25"/>
<line x1="279.3" y1="299.7" x2="278.2" y2="318.8" stroke="#333" stroke-width="1.0"/>
<line x1="479.7" y1="299.7" x2="481.2" y2="318.8" stroke="#222" stroke-width="1.1"/>
<line x1="329.2" y1="299.7" x2="329.2" y2="305" stroke="#111" stroke-width="1.1"/>
<line x1="429.3" y1="299.7" x2="429.6" y2="318.8" stroke="#111" stroke-width="1.1"/>
<polygon points="278.2,318.3 279.9,318.3 281.6,318.1 283.2,318.5 284.9,318.2 286.6,318.4 288.3,318.1 289.9,318.3 291.6,318.2 293.3,318.4 295,318.1 296.6,318.4 298.3,318.1 300,318.2 301.7,318.3 303.5,318.1 305.2,318.3 306.9,318 308.7,318.2 310.4,317.9 312.1,318.1 313.9,317.9 315.6,318 316.7,316.6 315.7,314.5 317.7,313.4 317.9,311.7 320,313.5 322.5,312.8 324.9,312.9 327,314 329.4,313.7 331.6,312.8 333.4,312.6 334.9,314.3 336.8,313.3 338.5,314 340,315.3 342,313.7 343.6,315 345.3,315.1 347.1,315 348.6,316.3 350.6,315.2 352.2,316.2 353.9,316.6 355.6,315.5 357.3,316.4 359,316.2 361.2,315 363.6,315.1 365.2,314.1 366.3,312.4 368.1,311.7 370.4,311.6 370.9,309 372.7,308.3 374.4,307.3 374.4,304.9 376.5,304.3 377.3,302.6 380,301.4 381.6,300 383.8,300 385.4,298.8 385.6,297 387.7,296.3 387.4,294.2 388.8,293.1 390.9,292.9 390.2,289.8 392.3,289.6 394.3,289.4 394.2,286.9 395.8,286.2 397.4,285.5 398.1,283.8 399.8,282.7 400.3,280.8 401.5,279.2 402.8,277.5 401.4,275 403.3,273.5 404.7,272.2 403.2,270.2 404.4,268.8 405.6,266 405.6,267.6 405.7,269.3 405.7,270.9 405.8,272.6 405.8,274.2 405.9,275.8 405.9,277.5 406,279.1 406,280.7 406.1,282.4 406.1,284 406.2,285.7 406.2,287.3 406.3,289.5 408.7,290.8 408.5,293.1 408.6,295.3 410.6,296.7 410.8,298.8 411.7,301.3 414.2,302 416.2,303.1 415.7,306.2 418,307 419.5,308.1 419.5,310.6 422.3,310.6 422.6,312.7 424,314 426,315.1 426.4,317.4 428,318.8 428,318.8 278.2,318.8" fill="#fff" stroke="none"/><polyline points="278.2,318.3 279.9,318.3 281.6,318.1 283.2,318.5 284.9,318.2 286.6,318.4 288.3,318.1 289.9,318.3 291.6,318.2 293.3,318.4 295,318.1 296.6,318.4 298.3,318.1 300,318.2 301.7,318.3 303.5,318.1 305.2,318.3 306.9,318 308.7,318.2 310.4,317.9 312.1,318.1 313.9,317.9 315.6,318 316.7,316.6 315.7,314.5 317.7,313.4 317.9,311.7 320,313.5 322.5,312.8 324.9,312.9 327,314 329.4,313.7 331.6,312.8 333.4,312.6 334.9,314.3 336.8,313.3 338.5,314 340,315.3 342,313.7 343.6,315 345.3,315.1 347.1,315 348.6,316.3 350.6,315.2 352.2,316.2 353.9,316.6 355.6,315.5 357.3,316.4 359,316.2 361.2,315 363.6,315.1 365.2,314.1 366.3,312.4 368.1,311.7 370.4,311.6 370.9,309 372.7,308.3 374.4,307.3 374.4,304.9 376.5,304.3 377.3,302.6 380,301.4 381.6,300 383.8,300 385.4,298.8 385.6,297 387.7,296.3 387.4,294.2 388.8,293.1 390.9,292.9 390.2,289.8 392.3,289.6 394.3,289.4 394.2,286.9 395.8,286.2 397.4,285.5 398.1,283.8 399.8,282.7 400.3,280.8 401.5,279.2 402.8,277.5 401.4,275 403.3,273.5 404.7,272.2 403.2,270.2 404.4,268.8 405.6,266" fill="none" stroke="#000" stroke-width="1.05" stroke-linejoin="round" stroke-dasharray="7 1.3 4 0.9 10 1.6 5 1.1 3 0.8"/><polyline points="406.2,287.3 406.3,289.5 408.7,290.8 408.5,293.1 408.6,295.3 410.6,296.7 410.8,298.8 411.7,301.3 414.2,302 416.2,303.1 415.7,306.2 418,307 419.5,308.1 419.5,310.6 422.3,310.6 422.6,312.7 424,314 426,315.1 426.4,317.4 428,318.8" fill="none" stroke="#000" stroke-width="1.05" stroke-linejoin="round" stroke-dasharray="7 1.3 4 0.9 10 1.6 5 1.1 3 0.8"/>
<line x1="278.2" y1="318.8" x2="481.2" y2="318.8" stroke="#111" stroke-width="1.25"/>
<line x1="278.2" y1="318.8" x2="275.7" y2="338.3" stroke="#333" stroke-width="1.0"/>
<line x1="481.2" y1="318.8" x2="482.7" y2="338.3" stroke="#222" stroke-width="1.1"/>
<line x1="379.1" y1="320" x2="379.1" y2="338.3" stroke="#111" stroke-width="1.1"/>
<polygon points="275.7,338 277.3,338.1 278.9,337.9 280.6,338.1 282.2,337.9 283.8,338.1 285.4,337.9 287,338.2 288.7,337.8 290.3,338.1 291.9,337.9 293.5,338.1 295.1,337.9 296.8,338.1 298.4,337.9 300,338 301.7,338 303.3,337.9 305,338 306.7,337.8 308.3,337.9 310,337.6 311.7,337.9 313.3,337.6 315,337.7 316.7,337.5 318.3,337.7 320,337.5 321.6,336.2 323.7,335.7 325,334 326.1,332.5 328.4,332.9 329.3,331.1 331.1,331.4 332,333.4 333.9,333.4 336.4,333.3 338.5,334.5 340.1,335.6 342,334.5 343.5,336 345.3,335.6 347.1,335.6 348.7,336.4 350.5,336.3 352.2,336.8 354,337.1 355.8,336.7 357.7,337.1 359.5,336.6 361.3,336.8 363.1,336.9 364.9,336.7 366.8,337.1 368.6,336.7 370.4,336.8 372,336.7 373.6,336.2 375.3,336.6 376.8,335.7 378.5,336.2 380,335.6 380.7,333.8 382.8,333.7 383.3,331.7 385,331.2 387,331.5 388,329.1 390,329.5 392.1,329.1 392.2,326.8 393.9,326.1 394.9,324.6 395,322.4 397.3,322 398.2,320.4 398.4,318.6 400.8,318.1 400.1,315.8 401.5,314.7 403.4,313.8 404.8,312.2 406.2,310.8 408.1,311.4 409.2,310.1 409.5,308.3 411.2,307.4 411.4,305.6 413.1,303.1 414.7,302.3 417.2,301.5 419.7,299.8 422.1,298.2 421.9,295.7 423.8,294 423.9,295.9 425.1,297.6 424.4,299.8 425.4,301.5 426.9,302.8 427.1,304.8 427.4,307 428.7,308.9 430.2,310.6 428.1,313 429.6,314.7 430.9,316.2 429.5,318.1 430.4,319.6 431.7,321.2 430.1,323 431.5,324.5 430.2,326.3 431.2,327.9 431.9,329.9 432,332 433.7,334.5 434.5,336.2 436.2,336.9 437.9,337.5 439.5,338.3 439.5,338.3 275.7,338.3" fill="#fff" stroke="none"/><polyline points="275.7,338 277.3,338.1 278.9,337.9 280.6,338.1 282.2,337.9 283.8,338.1 285.4,337.9 287,338.2 288.7,337.8 290.3,338.1 291.9,337.9 293.5,338.1 295.1,337.9 296.8,338.1 298.4,337.9 300,338 301.7,338 303.3,337.9 305,338 306.7,337.8 308.3,337.9 310,337.6 311.7,337.9 313.3,337.6 315,337.7 316.7,337.5 318.3,337.7 320,337.5 321.6,336.2 323.7,335.7 325,334 326.1,332.5 328.4,332.9 329.3,331.1 331.1,331.4 332,333.4 333.9,333.4 336.4,333.3 338.5,334.5 340.1,335.6 342,334.5 343.5,336 345.3,335.6 347.1,335.6 348.7,336.4 350.5,336.3 352.2,336.8 354,337.1 355.8,336.7 357.7,337.1 359.5,336.6 361.3,336.8 363.1,336.9 364.9,336.7 366.8,337.1 368.6,336.7 370.4,336.8 372,336.7 373.6,336.2 375.3,336.6 376.8,335.7 378.5,336.2 380,335.6 380.7,333.8 382.8,333.7 383.3,331.7 385,331.2 387,331.5 388,329.1 390,329.5 392.1,329.1 392.2,326.8 393.9,326.1 394.9,324.6 395,322.4 397.3,322 398.2,320.4 398.4,318.6 400.8,318.1 400.1,315.8 401.5,314.7 403.4,313.8 404.8,312.2 406.2,310.8 408.1,311.4 409.2,310.1 409.5,308.3 411.2,307.4 411.4,305.6 413.1,303.1 414.7,302.3 417.2,301.5 419.7,299.8 422.1,298.2 421.9,295.7 423.8,294 423.9,295.9 425.1,297.6 424.4,299.8 425.4,301.5 426.9,302.8 427.1,304.8 427.4,307 428.7,308.9 430.2,310.6 428.1,313 429.6,314.7 430.9,316.2 429.5,318.1 430.4,319.6 431.7,321.2 430.1,323 431.5,324.5 430.2,326.3 431.2,327.9 431.9,329.9 432,332 433.7,334.5 434.5,336.2 436.2,336.9 437.9,337.5 439.5,338.3" fill="none" stroke="#000" stroke-width="1.05" stroke-linejoin="round" stroke-dasharray="7 1.3 4 0.9 10 1.6 5 1.1 3 0.8"/>
<line x1="275.7" y1="338.3" x2="482.7" y2="338.3" stroke="#111" stroke-width="1.25"/>
<line x1="275.7" y1="338.3" x2="274.5" y2="358.9" stroke="#333" stroke-width="1.0"/>
<line x1="482.7" y1="338.3" x2="485.7" y2="358.9" stroke="#222" stroke-width="1.1"/>
<line x1="379.1" y1="338.3" x2="379.1" y2="358.9" stroke="#111" stroke-width="1.1"/>
<line x1="432.4" y1="346" x2="432.6" y2="358.9" stroke="#111" stroke-width="1.1"/>
<polygon points="275,358.9 275,357.6 276,357.7 277,357.3 278,357.6 279,357.2 280,357.8 281,357.2 282,357.7 283,357.4 284,356.9 285.2,357.3 286.2,356.7 287.4,356.9 288.4,356.6 289.6,356.8 290.6,356.2 291.7,356.2 292.6,355.8 293.3,354.9 294.3,354.6 295,353.9 295.6,353 296.7,352.5 297.1,351.4 298.4,351.1 298.7,349.8 299.7,349.3 300.7,348.8 301.2,347.8 302.3,347.4 303,346.5 303.8,345.7 304.8,345.1 305.4,344.1 306.5,343.6 307,342.6 307.1,341.5 307.9,340.6 308.2,339.6 308.8,338.6 308.9,337.5 309.7,336.7 310,335.6 309.9,334.5 310.6,333.6 310.5,332.5 310.9,331.5 310.8,330.4 311.3,329.4 311.1,328.3 311.7,327.3 311.7,326.2 312.3,325.3 312.2,324.2 312.8,323.3 313.8,322.8 314.5,322 314.6,320.9 315.5,320.1 315.6,318.9 316.3,318 316.3,316.9 316.8,315.9 317,314.8 317.6,313.8 317.9,312.8 318.8,313.4 319.2,314.6 320.2,315.1 320.7,314.2 321.6,313.6 321.6,312.4 322.5,311.7 322.8,312.7 323.6,313.5 323.4,314.6 324.2,315.4 324.2,316.5 324.8,317.4 325.7,318.2 326.4,319.2 327.5,319.8 328.2,320.8 328.2,321.9 329,322.7 328.8,323.9 329.6,324.7 329.4,325.9 330.1,326.8 330,327.9 330.5,328.8 331.1,329.7 331,330.8 331.6,331.7 331.5,332.8 332.3,333.6 332.2,334.7 332.8,335.6 333.3,336.5 333.1,337.7 334,338.5 333.9,339.6 334.7,340.4 334.5,341.6 335,342.5 335.4,343.4 335.4,344.5 336.2,345.3 336.4,346.4 337.2,347.1 337.3,348.2 337.5,349.3 338.5,349.9 338.5,351 339.4,351.7 339.6,352.8 340.1,353.9 341.2,354.4 341.4,355.7 342.5,356.2 343,357.3 344,358.3 345.3,358.9" fill="#a9a9a9" stroke="none"/>
<polyline points="275.7,358.8 276.5,357.3 274.5,355.8 276.6,354.3 275.7,352.8 277.1,351.4 279.1,351.6 280.9,352.5 282,350.3 283.7,350.5 285.2,352 286.8,349.6 288.3,350.5 290,350.1 290.7,347.9 292.8,348.2 294.3,347.8 294.2,345.3 296.9,346.6 297.4,344.8 297.9,343.3 300.4,343.5 299.6,341 302.2,341.2 302,339.1 303,338 304.6,337.8 304.7,335.6 306.5,335.6 307.7,334.5 307.3,332.6 308.9,331.7 308.3,329.7 309.9,328.8 311.9,327.9 310.9,325.4 312.2,324.2 314,323.2 312.9,320.8 314.5,319.7 316.2,318.8 314.5,316.3 317.4,316 316.6,313.9 317.9,312.8 318.4,314.6 320.2,315.1 320,313.3 323,313.7 322.5,311.7 324.5,312.5 323.1,314.8 324.6,315.8 324.8,317.4 324.9,319.6 327.4,319.3 328.2,320.8 327.5,322.4 329.4,323.3 328.5,325 330.9,325.8 328.7,327.9 330.5,328.8 331.6,329.9 330.7,331.8 333.1,332.5 331.5,334.5 332.8,335.6 333.6,336.9 333,338.6 334.6,339.6 333.4,341.5 335,342.5 336.6,343.5 335.8,345.5 337.6,346.4 337.3,348.2 336.9,350.3 340,350.7 339.6,352.8 339.5,354.6 342.1,354.4 341.4,356.7 343,357.3 345,356.8 345.3,358.8" fill="none" stroke="#000" stroke-width="1.1" stroke-linejoin="round"/>
<line x1="273.7" y1="220.4" x2="273.7" y2="359.8" stroke="#111" stroke-width="1.7"/>
<line x1="272.9" y1="359" x2="487.3" y2="359" stroke="#111" stroke-width="1.8"/>
<text x="515.4" y="52.1" font-size="14.2" text-anchor="end" font-weight="normal" >Day</text>
<text x="513.7" y="75.5" font-size="14.2" text-anchor="end" font-weight="normal" >20</text>
<text x="513.7" y="92.4" font-size="14.2" text-anchor="end" font-weight="normal" >15</text>
<text x="513.7" y="111.1" font-size="14.2" text-anchor="end" font-weight="normal" >10</text>
<text x="513.7" y="130.5" font-size="14.2" text-anchor="end" font-weight="normal" >7</text>
<text x="513.7" y="150.6" font-size="14.2" text-anchor="end" font-weight="normal" >5</text>
<text x="513.7" y="171.8" font-size="14.2" text-anchor="end" font-weight="normal" >0</text>
<text x="518.6" y="241.9" font-size="14.2" text-anchor="end" font-weight="normal" >Day</text>
<text x="513.7" y="261.6" font-size="14.2" text-anchor="end" font-weight="normal" >20</text>
<text x="513.7" y="279.9" font-size="14.2" text-anchor="end" font-weight="normal" >15</text>
<text x="513.7" y="299.1" font-size="14.2" text-anchor="end" font-weight="normal" >10</text>
<text x="513.7" y="318.8" font-size="14.2" text-anchor="end" font-weight="normal" >7</text>
<text x="513.7" y="338.9" font-size="14.2" text-anchor="end" font-weight="normal" >5</text>
<text x="513.7" y="361" font-size="14.2" text-anchor="end" font-weight="normal" >0</text>
<text x="261.6" y="186.7" font-size="14.2">10<tspan dy="-4.6" font-size="8.6">0</tspan></text>
<text x="313.7" y="186.7" font-size="14.2">10<tspan dy="-4.6" font-size="8.6">1</tspan></text>
<text x="366.2" y="186.7" font-size="14.2">10<tspan dy="-4.6" font-size="8.6">2</tspan></text>
<text x="414.5" y="186.7" font-size="14.2">10<tspan dy="-4.6" font-size="8.6">3</tspan></text>
<text x="465.7" y="186.7" font-size="14.2">10<tspan dy="-4.6" font-size="8.6">4</tspan></text>
<text x="261.6" y="373.8" font-size="14.2">10<tspan dy="-4.6" font-size="8.6">0</tspan></text>
<text x="315.5" y="373.8" font-size="14.2">10<tspan dy="-4.6" font-size="8.6">1</tspan></text>
<text x="367" y="373.8" font-size="14.2">10<tspan dy="-4.6" font-size="8.6">2</tspan></text>
<text x="415.8" y="373.8" font-size="14.2">10<tspan dy="-4.6" font-size="8.6">3</tspan></text>
<text x="467.7" y="373.8" font-size="14.2">10<tspan dy="-4.6" font-size="8.6">4</tspan></text>
<text x="314.7" y="389.4" font-size="13.75" text-anchor="start" font-weight="normal" >Log CD28 expression</text>
<text x="257.1" y="214.0" font-size="14.0" textLength="39.6" lengthAdjust="spacingAndGlyphs" transform="rotate(-90 257.1 214.0)">Events</text>
</svg>
</body></html>
